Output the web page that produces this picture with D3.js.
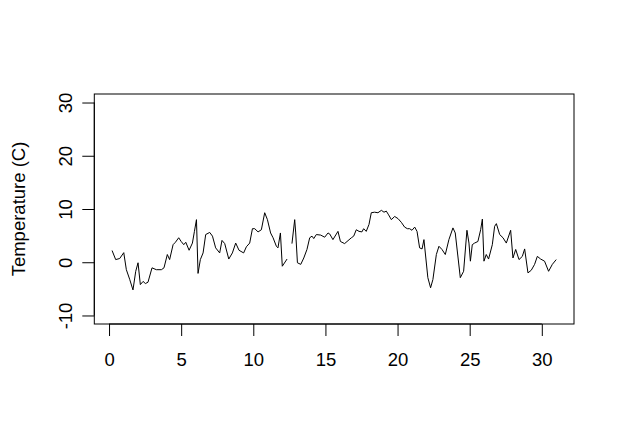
<!DOCTYPE html>
<html><head><meta charset="utf-8">
<script src="https://cdn.jsdelivr.net/npm/d3@7"></script>
<style>body{margin:0;background:#fff}svg{display:block}text{font-family:"Liberation Sans",Arial,sans-serif}</style>
</head><body><svg id="c" width="623" height="442"></svg>
<script>
const days = [0.21,0.46,0.74,1.02,1.2,1.43,1.66,1.85,2.01,2.17,2.36,2.52,2.7,2.98,3.28,3.63,3.81,4.04,4.2,4.44,4.6,4.83,5.0,5.18,5.32,5.55,5.78,5.92,6.06,6.17,6.33,6.52,6.7,6.98,7.17,7.39,7.67,7.83,8.02,8.3,8.55,8.78,9.01,9.33,9.52,9.75,9.94,10.1,10.33,10.56,10.79,10.98,11.2,11.37,11.6,11.71,11.88,12.01,12.34,12.5,12.68,12.87,12.94,13.06,13.29,13.5,13.72,13.91,14.07,14.19,14.37,14.67,14.95,15.18,15.3,15.52,15.87,16.04,16.33,16.8,16.96,17.14,17.33,17.53,17.65,17.83,18.02,18.18,18.41,18.64,18.88,19.06,19.22,19.38,19.57,19.8,20.03,20.26,20.49,20.68,20.84,21.0,21.19,21.35,21.53,21.7,21.83,22.1,22.29,22.45,22.69,22.87,23.08,23.31,23.56,23.84,24.0,24.35,24.58,24.81,24.95,25.05,25.18,25.34,25.57,25.76,25.88,25.99,26.15,26.31,26.57,26.73,26.85,27.08,27.31,27.54,27.84,28.0,28.19,28.42,28.65,28.81,29.04,29.27,29.5,29.69,29.92,30.19,30.47,30.73,31.0];
const temps = [2.2,0.5,0.7,1.8,-1.4,-3.2,-5.2,-1.7,-0.1,-4.2,-3.6,-4.0,-3.75,-1.05,-1.4,-1.4,-1.05,1.45,0.5,3.3,3.75,4.6,3.9,3.3,3.75,2.25,3.6,5.8,8.0,-2.1,0.5,1.75,5.2,5.6,4.9,2.7,1.75,4.1,3.5,0.6,1.75,3.6,2.25,1.75,2.9,3.6,6.3,6.3,5.7,6.1,9.3,8.0,5.5,4.6,3.0,2.7,5.5,-0.75,0.6,null,3.5,8.0,5.5,-0.1,-0.4,0.8,2.4,4.6,4.9,4.45,5.2,5.1,4.7,5.5,5.3,4.25,5.8,3.9,3.5,4.6,4.9,6.1,5.8,5.7,6.3,5.8,7.1,9.3,9.4,9.3,9.75,9.4,9.6,8.9,8.0,8.6,8.2,7.5,6.6,6.3,6.3,6.0,6.6,5.8,2.7,2.5,4.25,-2.9,-4.8,-3.25,1.45,3.0,2.4,1.45,4.25,6.45,5.5,-2.9,-1.7,6.0,3.6,0.2,3.3,3.6,3.9,6.1,8.1,0.2,1.45,0.6,3.3,6.75,7.25,5.2,4.6,3.6,6.0,0.8,2.4,0.5,1.1,2.5,-2.0,-1.5,-0.4,1.1,0.6,0.2,-1.7,-0.4,0.5];
const xTicks = [0,5,10,15,20,25,30];
const yTicks = [-10,0,10,20,30];
const yLim = [-10,30];
const yLabel = "Temperature (C)";

const FS = 18.5;
const svg = d3.select("#c");
const L=94.3,R=574,T=94,B=324;
const ext=d3.extent(days), dx=(ext[1]-ext[0])*0.04, dy=(yLim[1]-yLim[0])*0.04;
const x=d3.scaleLinear().domain([ext[0]-dx,ext[1]+dx]).range([L,R]);
const y=d3.scaleLinear().domain([yLim[0]-dy,yLim[1]+dy]).range([B,T]);
const data=days.map((d,i)=>({d,t:temps[i]}));
const fmt = v => String(v);

svg.append("path").datum(data)
  .attr("fill","none").attr("stroke","#000").attr("stroke-width",1)
  .attr("d",d3.line().defined(p=>p.t!==null).x(p=>x(p.d)).y(p=>y(p.t)));

svg.append("rect").attr("x",L).attr("y",T).attr("width",R-L).attr("height",B-T)
  .attr("fill","none").attr("stroke","#000").attr("stroke-width",1);

const xa=svg.append("g").attr("transform",`translate(0,${B})`)
  .call(d3.axisBottom(x).tickValues(xTicks).tickSize(12).tickPadding(17).tickFormat(fmt));
xa.select(".domain").attr("d",`M${x(xTicks[0])},0H${x(xTicks[xTicks.length-1])}`);
xa.selectAll("text").attr("font-size",FS).attr("fill","#000").attr("font-family","Liberation Sans, Arial");

const ya=svg.append("g").attr("transform",`translate(${L},0)`)
  .call(d3.axisLeft(y).tickValues(yTicks).tickSize(12).tickPadding(10).tickFormat(fmt));
ya.select(".domain").attr("d",`M0,${y(yTicks[0])}V${y(yTicks[yTicks.length-1])}`);
ya.selectAll(".tick text").attr("font-size",FS).attr("fill","#000").attr("font-family","Liberation Sans, Arial")
  .attr("text-anchor","middle").attr("dy",0).attr("x",0)
  .attr("transform","translate(-22,0) rotate(-90)");
ya.selectAll("path,line").attr("stroke","#000");
xa.selectAll("path,line").attr("stroke","#000");

svg.append("text").attr("transform",`translate(25,${(T+B)/2}) rotate(-90)`)
  .attr("text-anchor","middle").attr("font-size",FS).text(yLabel);
</script></body></html>
